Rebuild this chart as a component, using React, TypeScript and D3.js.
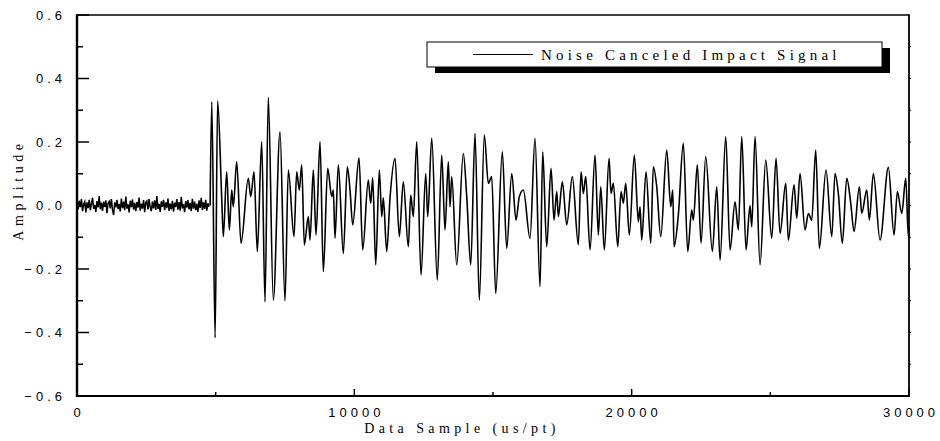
import React from "react";
import * as d3 from "d3";

// ---- data ----
const xDomain: [number, number] = [0, 30000];
const yDomain: [number, number] = [-0.6, 0.6];
const xMajorTicks = [0, 10000, 20000, 30000];
const xMinorTicks = [5000, 15000, 25000];
const yMajorTicks = [-0.6, -0.4, -0.2, 0.0, 0.2, 0.4, 0.6];
const yMinorTicks = [-0.5, -0.3, -0.1, 0.1, 0.3, 0.5];
const yRightTicks = [-0.5, -0.4, -0.3, -0.2, -0.1, 0.0, 0.1, 0.2, 0.3, 0.4, 0.5];
const seriesName = "Noise Canceled Impact Signal";
const xTitle = "Data Sample (us/pt)";
const yTitle = "Amplitude";

// pre-impact background noise, one value every noiseStep samples
const noiseStep = 40;
const preImpactNoise = [
  0.008, -0.012, 0.015, -0.005, 0.02, -0.018, 0.004, 0.012, -0.022, 0.01,
  -0.008, 0.018, -0.015, 0.006, 0.024, -0.01, 0.002, -0.02, 0.014, -0.006,
  0.03, -0.012, 0.009, -0.017, 0.012, -0.004, 0.016, -0.024, 0.007, 0.013,
  -0.009, 0.02, -0.014, -0.03, 0.01, -0.006, 0.018, -0.011, 0.005, -0.019,
  0.022, -0.008, 0.012, -0.015, 0.028, -0.01, 0.004, -0.022, 0.015, -0.005,
  0.019, -0.013, 0.008, -0.018, 0.011, -0.007, 0.025, -0.016, 0.006, -0.01,
  0.017, -0.021, 0.009, 0.014, -0.012, 0.02, -0.006, -0.018, 0.012, -0.009,
  0.016, -0.014, 0.03, -0.011, 0.005, -0.02, 0.013, -0.004, 0.018, -0.015,
  0.01, -0.008, 0.022, -0.017, 0.006, -0.012, 0.015, -0.019, 0.009, -0.005,
  0.02, -0.013, 0.011, -0.016, 0.027, -0.009, 0.004, -0.021, 0.014, -0.007,
  0.017, -0.012, 0.008, -0.018, 0.021, -0.01, 0.012, -0.015, 0.006, -0.02,
  0.016, -0.008, 0.024, -0.014, 0.01, -0.011, 0.018, -0.016, 0.007, -0.004,
];

// impact signal turning points [sample, amplitude]
const impactSignal: [number, number][] = [
  [4800, 0.0], [4860, 0.327], [4980, -0.417], [5070, 0.33], [5218, 0.024],
  [5276, -0.098], [5398, 0.106], [5492, -0.077], [5579, 0.049], [5636, -0.004],
  [5759, 0.138], [5914, -0.119], [6177, 0.086], [6264, 0.028], [6383, 0.106],
  [6502, -0.145], [6660, 0.201], [6779, -0.303], [6898, 0.341], [7079, -0.298],
  [7320, 0.232], [7500, -0.3], [7620, 0.112], [7825, -0.098], [7922, 0.106],
  [8016, 0.049], [8103, 0.128], [8197, -0.124], [8341, -0.035], [8402, -0.109],
  [8521, 0.112], [8618, -0.093], [8763, 0.201], [8882, -0.208], [9040, 0.117],
  [9184, 0.028], [9242, 0.049], [9303, -0.103], [9423, 0.128], [9603, -0.151],
  [9747, 0.122], [9844, 0.049], [9942, -0.061], [10169, 0.15], [10302, -0.14],
  [10504, 0.08], [10591, 0.007], [10663, 0.087], [10771, -0.187], [10901, 0.112],
  [10988, -0.035], [11045, 0.024], [11168, -0.145], [11287, 0.024], [11467, 0.149],
  [11622, -0.098], [11766, 0.075], [11947, -0.13], [12033, 0.033], [12127, -0.035],
  [12250, 0.201], [12405, -0.219], [12574, 0.101], [12646, -0.035], [12791, 0.212],
  [12992, -0.235], [13151, 0.159], [13270, -0.077], [13389, 0.138], [13450, -0.004],
  [13512, 0.091], [13692, -0.187], [13930, 0.164], [14053, 0.028], [14197, -0.187],
  [14352, 0.227], [14507, -0.298], [14687, 0.222], [14832, 0.07], [14954, 0.091],
  [15098, -0.277], [15336, 0.169], [15495, -0.135], [15675, 0.101], [15830, -0.046],
  [15949, 0.028], [16094, 0.049], [16335, -0.103], [16515, 0.212], [16696, -0.256],
  [16793, 0.169], [16937, -0.13], [17092, 0.117], [17201, -0.046], [17298, 0.044],
  [17356, -0.035], [17500, 0.075], [17659, -0.061], [17861, 0.091], [18077, -0.124],
  [18174, 0.106], [18257, 0.038], [18344, 0.091], [18499, -0.14], [18679, 0.159],
  [18798, -0.093], [18885, 0.059], [19015, -0.14], [19184, 0.149], [19256, 0.038],
  [19339, 0.07], [19498, -0.13], [19617, 0.044], [19700, 0.007], [19786, 0.07],
  [19916, -0.093], [20096, 0.159], [20241, -0.051], [20302, -0.004], [20363, -0.109],
  [20518, 0.106], [20688, -0.119], [20781, 0.122], [20904, 0.059], [21048, -0.098],
  [21265, 0.175], [21409, -0.004], [21481, 0.049], [21528, -0.13], [21683, -0.03],
  [21863, 0.196], [22022, -0.145], [22166, -0.014], [22224, -0.046], [22368, 0.128],
  [22501, -0.119], [22671, 0.154], [22909, -0.145], [23068, 0.059], [23187, -0.172],
  [23392, 0.217], [23547, -0.14], [23727, 0.012], [23847, -0.077], [23969, 0.217],
  [24124, -0.14], [24268, 0.0], [24330, -0.067], [24449, 0.217], [24629, -0.187],
  [24835, 0.143], [25051, -0.103], [25206, 0.149], [25350, -0.088], [25556, 0.07],
  [25650, -0.109], [25855, 0.065], [25953, -0.04], [26071, 0.101], [26252, -0.077],
  [26371, -0.025], [26493, -0.046], [26637, 0.175], [26767, -0.135], [27009, 0.112],
  [27215, -0.098], [27333, 0.101], [27452, 0.038], [27597, -0.119], [27755, 0.086],
  [27900, 0.007], [28019, -0.082], [28210, 0.059], [28296, -0.025], [28477, 0.049],
  [28570, -0.046], [28715, 0.101], [28956, -0.109], [29256, 0.12], [29461, -0.093],
  [29580, 0.044], [29739, -0.025], [29883, 0.086], [29977, -0.098], [30000, -0.07],
];

// ---- layout ----
const W = 940;
const H = 441;
const plot = { left: 77, right: 909, top: 15, bottom: 396 };
const sans = "'Liberation Sans', Arial, sans-serif";
const serif = "'Liberation Serif', 'Times New Roman', serif";

export default function App() {
  const x = d3.scaleLinear().domain(xDomain).range([plot.left, plot.right]);
  const y = d3.scaleLinear().domain(yDomain).range([plot.bottom, plot.top]);

  const noisePts: [number, number][] = preImpactNoise.map((v, i) => [i * noiseStep, v]);
  const noisePath = d3
    .line<[number, number]>()
    .x((d) => x(d[0]))
    .y((d) => y(d[1]))(noisePts) as string;
  const signalPath = d3
    .line<[number, number]>()
    .x((d) => x(d[0]))
    .y((d) => y(d[1]))
    .curve(d3.curveMonotoneX)(impactSignal) as string;

  const fmtY = d3.format(".1f");

  return (
    <svg
      width={W}
      height={H}
      style={{ position: "absolute", left: 0, top: 0, background: "#fff" }}
    >
      <rect x={0} y={0} width={W} height={H} fill="#fff" />

      {/* signal */}
      <path d={noisePath} fill="none" stroke="#000" strokeWidth={1.5} />
      <path d={signalPath} fill="none" stroke="#000" strokeWidth={1.6} strokeLinejoin="round" />

      {/* frame */}
      <line x1={plot.left} x2={plot.right} y1={plot.top} y2={plot.top} stroke="#000" strokeWidth={1.6} />
      <line x1={plot.left} x2={plot.right} y1={plot.bottom} y2={plot.bottom} stroke="#000" strokeWidth={1.8} />
      <line x1={plot.left} x2={plot.left} y1={plot.top - 0.8} y2={plot.bottom + 0.9} stroke="#000" strokeWidth={2.4} />
      <line x1={plot.right} x2={plot.right} y1={plot.top - 0.8} y2={plot.bottom + 0.9} stroke="#000" strokeWidth={1.8} />

      {/* left ticks */}
      {yMajorTicks.map((t) => (
        <line key={"ym" + t} x1={plot.left} x2={plot.left + 12} y1={y(t)} y2={y(t)} stroke="#000" strokeWidth={1.5} />
      ))}
      {yMinorTicks.map((t) => (
        <line key={"yn" + t} x1={plot.left} x2={plot.left + 6} y1={y(t)} y2={y(t)} stroke="#000" strokeWidth={1.5} />
      ))}
      {yRightTicks.map((t) => (
        <line key={"yr" + t} x1={plot.right} x2={plot.right + 2} y1={y(t)} y2={y(t)} stroke="#000" strokeWidth={1} />
      ))}
      {/* bottom ticks */}
      {xMajorTicks.map((t) => (
        <line key={"xm" + t} x1={x(t)} x2={x(t)} y1={plot.bottom} y2={plot.bottom - 7} stroke="#000" strokeWidth={1.5} />
      ))}
      {xMinorTicks.map((t) => (
        <line key={"xn" + t} x1={x(t)} x2={x(t)} y1={plot.bottom} y2={plot.bottom - 4} stroke="#000" strokeWidth={1.5} />
      ))}

      {/* y tick labels */}
      {yMajorTicks.map((t) => (
        <text
          key={"yl" + t}
          x={66}
          y={y(t) + 4.6}
          textAnchor="end"
          fontFamily={sans}
          fontSize={13}
          letterSpacing={4}
          fill="#000"
        >
          {fmtY(t)}
        </text>
      ))}
      {/* x tick labels */}
      {xMajorTicks.map((t) => (
        <text
          key={"xl" + t}
          x={x(t) + 2}
          y={417}
          textAnchor="middle"
          fontFamily={sans}
          fontSize={13}
          letterSpacing={4}
          fill="#000"
        >
          {String(t)}
        </text>
      ))}

      {/* axis titles */}
      <text
        x={462}
        y={433}
        textAnchor="middle"
        fontFamily={serif}
        fontSize={14}
        letterSpacing={4.4}
        fill="#000"
      >
        {xTitle}
      </text>
      <text
        transform="translate(23,190) rotate(-90)"
        textAnchor="middle"
        fontFamily={serif}
        fontSize={14}
        letterSpacing={4.6}
        fill="#000"
      >
        {yTitle}
      </text>

      {/* legend */}
      <rect x={435} y={48} width={455} height={25} fill="#000" />
      <rect x={427} y={42} width={455} height={25} fill="#fff" stroke="#000" strokeWidth={1} />
      <line x1={473} x2={533} y1={54.5} y2={54.5} stroke="#000" strokeWidth={1} />
      <text x={541} y={59.5} fontFamily={serif} fontSize={15} letterSpacing={4.2} fill="#000">
        {seriesName}
      </text>
    </svg>
  );
}
